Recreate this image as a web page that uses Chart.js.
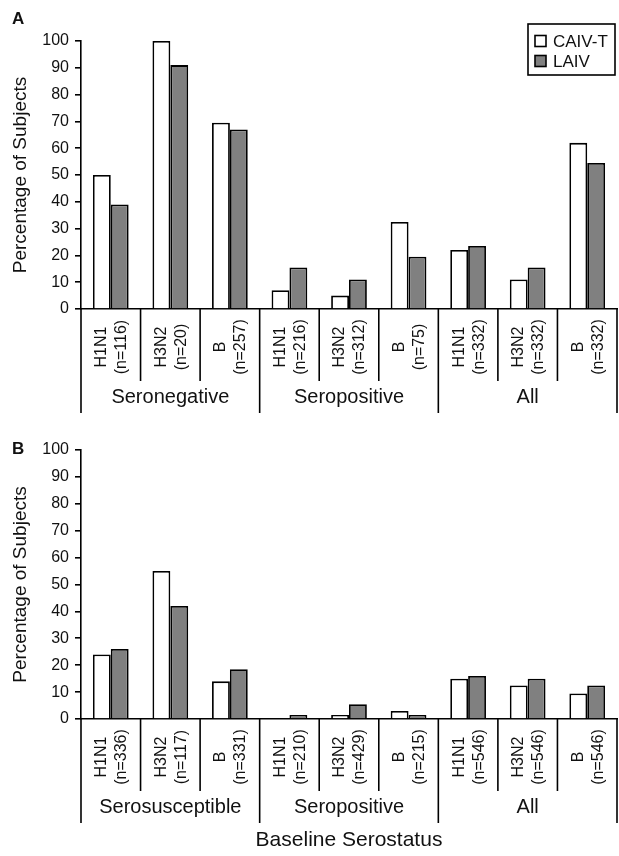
<!DOCTYPE html>
<html>
<head>
<meta charset="utf-8">
<script src="https://cdn.jsdelivr.net/npm/chart.js@4/dist/chart.umd.min.js"></script>
<style>
  html, body { margin: 0; padding: 0; background: #fff; }
  body { width: 619px; height: 856px; position: relative; overflow: hidden; font-family: "Liberation Sans", Arial, sans-serif; }
  canvas { position: absolute; left: 0; }
  #cA { top: 0; }
  #cB { top: 420px; }
  .panel { position: absolute; left: 12px; font-weight: bold; font-size: 17px; color: #111; }
</style>
</head>
<body>
<canvas id="cA" width="619" height="420"></canvas>
<canvas id="cB" width="619" height="436"></canvas>
<div class="panel" style="top:9px;">A</div>
<div class="panel" style="top:439px;">B</div>
<script>
// ---------- data ----------
const seriesNames = ['CAIV-T', 'LAIV'];
const strains = ['H1N1', 'H3N2', 'B', 'H1N1', 'H3N2', 'B', 'H1N1', 'H3N2', 'B'];

const sizesA = ['(n=116)', '(n=20)', '(n=257)', '(n=216)', '(n=312)', '(n=75)', '(n=332)', '(n=332)', '(n=332)'];
const groupsA = ['Seronegative', 'Seropositive', 'All'];
const caivA = [50, 100, 69.5, 7, 5, 32.5, 22, 11, 62];
const laivA = [39, 91, 67, 15.5, 11, 19.5, 23.5, 15.5, 54.5];

const sizesB = ['(n=336)', '(n=117)', '(n=331)', '(n=210)', '(n=429)', '(n=215)', '(n=546)', '(n=546)', '(n=546)'];
const groupsB = ['Serosusceptible', 'Seropositive', 'All'];
const caivB = [24, 55, 14, 0, 1.5, 3, 15, 12.5, 9.5];
const laivB = [26, 42, 18.5, 1.5, 5.5, 1.5, 16, 15, 12.5];

const yTicksMax = 100;
const yStep = 10;
const yTitle = 'Percentage of Subjects';
const xTitle = 'Baseline Serostatus';

// ---------- styling ----------
const FONT = '"Liberation Sans", Arial, Helvetica, sans-serif';
Chart.defaults.font.family = FONT;
Chart.defaults.color = '#111';
const fills = ['#ffffff', '#808080'];

// category boxes / labels under the x axis
const catBoxes = {
  id: 'catBoxes',
  afterDraw(chart, args, opts) {
    const { ctx, chartArea } = chart;
    const xs = chart.scales.x;
    const labels = chart.data.labels;
    const n = labels.length;
    const step = xs.getPixelForValue(1) - xs.getPixelForValue(0);
    const top = chartArea.bottom;
    const catBottom = top + opts.catH;
    const grpBottom = catBottom + opts.grpH;
    ctx.save();
    ctx.strokeStyle = '#000';
    ctx.lineWidth = 1.6;
    for (let i = 0; i <= n; i++) {
      const x = i < n ? xs.getPixelForValue(i) - step / 2 : xs.getPixelForValue(n - 1) + step / 2;
      const isGroup = i % 3 === 0;
      ctx.beginPath();
      ctx.moveTo(x, top);
      ctx.lineTo(x, isGroup ? grpBottom : catBottom);
      ctx.stroke();
    }
    ctx.fillStyle = '#111';
    ctx.textAlign = 'center';
    ctx.textBaseline = 'middle';
    ctx.font = '16px ' + FONT;
    const cy = (top + catBottom) / 2 + 2;
    for (let i = 0; i < n; i++) {
      const cx = xs.getPixelForValue(i);
      const lines = labels[i];
      const offs = [-9, 11];
      lines.forEach((t, k) => {
        ctx.save();
        ctx.translate(cx + offs[k], cy);
        ctx.rotate(-Math.PI / 2);
        ctx.fillText(t, 0, 0);
        ctx.restore();
      });
    }
    ctx.font = '20px ' + FONT;
    const gy = (catBottom + grpBottom) / 2;
    opts.groups.forEach((g, k) => {
      const cx = (xs.getPixelForValue(3 * k) + xs.getPixelForValue(3 * k + 2)) / 2;
      ctx.fillText(g, cx, gy);
    });
    ctx.restore();
  }
};

// boxed legend
const boxLegend = {
  id: 'boxLegend',
  afterDraw(chart, args, opts) {
    if (!opts.show) return;
    const { ctx } = chart;
    const { x, y, w, h } = opts;
    ctx.save();
    ctx.strokeStyle = '#000';
    ctx.lineWidth = 1.6;
    ctx.strokeRect(x, y, w, h);
    ctx.font = '17px ' + FONT;
    ctx.textBaseline = 'middle';
    ctx.textAlign = 'left';
    chart.data.datasets.forEach((ds, i) => {
      const ry = y + 17 + i * 20;
      ctx.fillStyle = ds.backgroundColor;
      ctx.fillRect(x + 7, ry - 5.5, 11, 11);
      ctx.strokeRect(x + 7, ry - 5.5, 11, 11);
      ctx.fillStyle = '#111';
      ctx.fillText(ds.label, x + 25, ry + 1);
    });
    ctx.restore();
  }
};

function makeChart(id, sizes, groups, caiv, laiv, pad, showLegend, showXTitle) {
  const labels = strains.map((s, i) => [s, sizes[i]]);
  return new Chart(document.getElementById(id), {
    type: 'bar',
    data: {
      labels: labels,
      datasets: [
        { label: seriesNames[0], data: caiv, backgroundColor: fills[0], borderColor: '#000', borderWidth: 1.8 },
        { label: seriesNames[1], data: laiv, backgroundColor: fills[1], borderColor: '#000', borderWidth: 1.8 }
      ]
    },
    options: {
      responsive: false,
      animation: false,
      devicePixelRatio: 1,
      datasets: { bar: { categoryPercentage: 0.6, barPercentage: 1.0 } },
      layout: { padding: pad },
      plugins: {
        legend: { display: false },
        tooltip: { enabled: false },
        catBoxes: { groups: groups, catH: 72, grpH: 32 },
        boxLegend: { show: showLegend, x: 528, y: 24, w: 87, h: 51 }
      },
      scales: {
        x: {
          grid: { display: false },
          ticks: { display: false },
          border: { display: true, color: '#000', width: 1.6 },
          title: {
            display: showXTitle, text: xTitle, color: '#111',
            font: { size: 21 }, padding: { top: 100.4, bottom: 3.4 }
          }
        },
        y: {
          min: 0, max: yTicksMax,
          ticks: { stepSize: yStep, color: '#111', font: { size: 16 }, padding: 6 },
          grid: { display: true, drawOnChartArea: false, drawTicks: true, tickLength: 6, color: '#000', lineWidth: 1.6 },
          border: { display: true, color: '#000', width: 1.6 },
          title: {
            display: true, text: yTitle, color: '#111',
            font: { size: 19 }, padding: { top: 0, bottom: 4 }
          }
        }
      }
    },
    plugins: [catBoxes, boxLegend]
  });
}

makeChart('cA', sizesA, groupsA, caivA, laivA, { left: 9.5, top: 41, right: 2, bottom: 103 }, true, false);
makeChart('cB', sizesB, groupsB, caivB, laivB, { left: 9.5, top: 30, right: 2, bottom: 0 }, false, true);
</script>
</body>
</html>
